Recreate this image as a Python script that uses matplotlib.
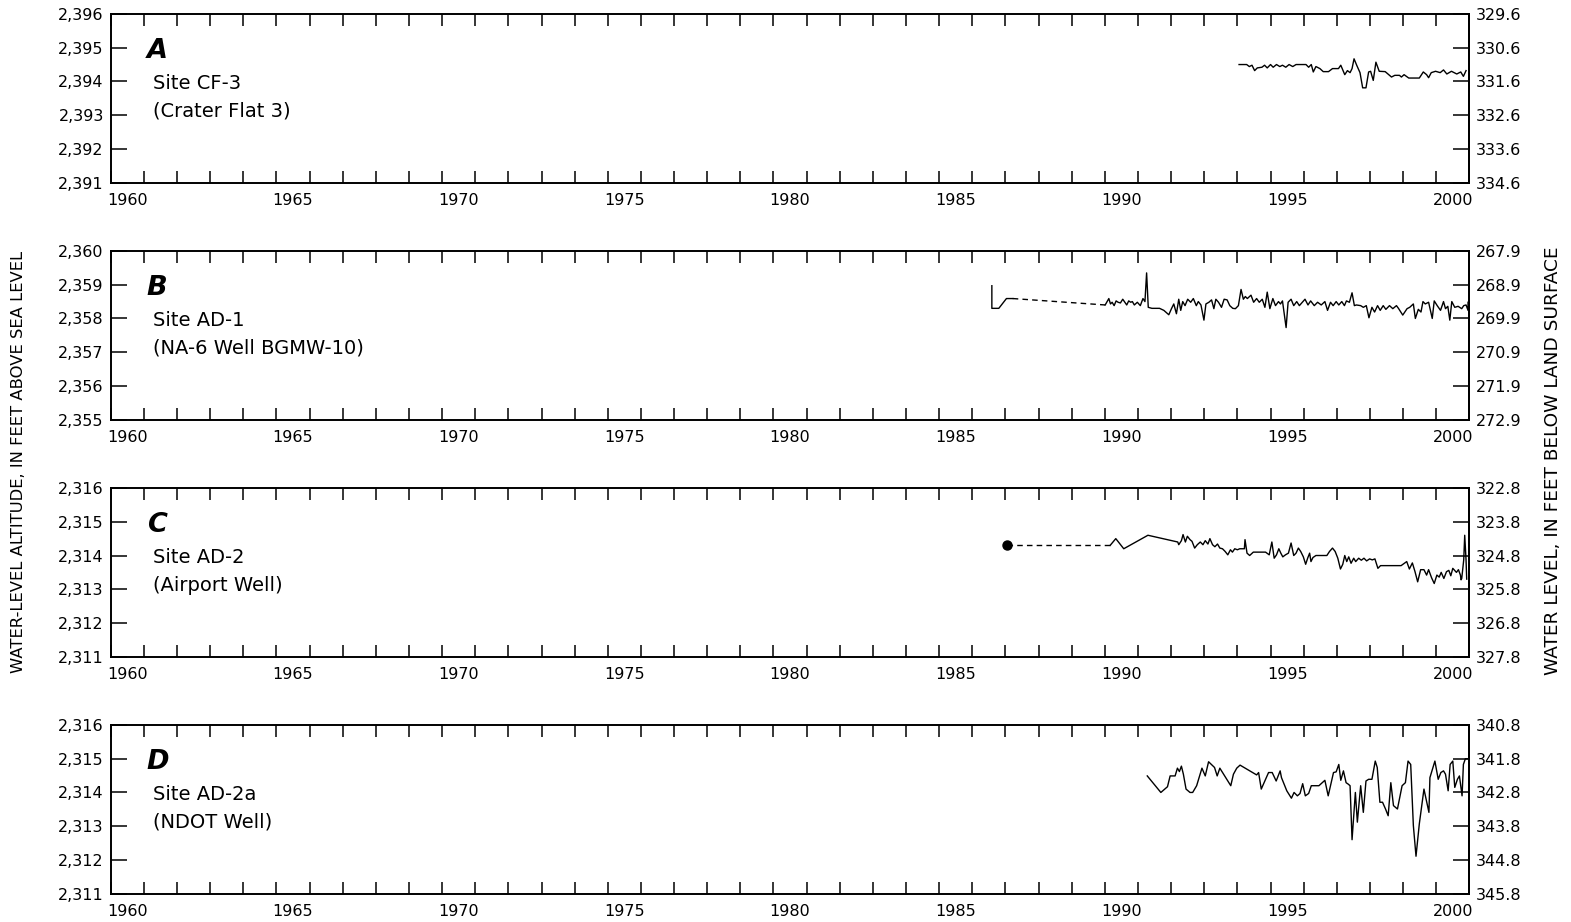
import numpy as np
import matplotlib
matplotlib.use("Agg")
import matplotlib.pyplot as plt
from matplotlib.ticker import FuncFormatter, FormatStrFormatter

plt.rcParams["font.family"] = ["DejaVu Sans"]

# ---- hydrograph data (decimal year, water-level altitude in ft) ----
# A: CF-3
a_year = [1994.05, 1994.28, 1994.36, 1994.44, 1994.52, 1994.60, 1994.74, 1994.82,
          1994.90, 1995.00, 1995.08, 1995.18, 1995.28, 1995.36, 1995.46, 1995.56,
          1995.67, 1995.77, 1996.07, 1996.15, 1996.23, 1996.29, 1996.37, 1996.49,
          1996.59, 1996.75, 1996.87, 1997.05, 1997.12, 1997.24, 1997.32, 1997.40,
          1997.46, 1997.52, 1997.60, 1997.70, 1997.78, 1997.88, 1997.96, 1998.02,
          1998.10, 1998.18, 1998.28, 1998.46, 1998.65, 1998.75, 1998.89, 1998.95,
          1999.03, 1999.17, 1999.49, 1999.61, 1999.71, 1999.77, 1999.85, 1999.98,
          2000.12, 2000.22, 2000.32, 2000.46, 2000.62, 2000.74, 2000.82, 2000.90]
a_alt = [2394.50, 2394.50, 2394.44, 2394.48, 2394.32, 2394.40, 2394.42, 2394.48,
         2394.40, 2394.50, 2394.42, 2394.50, 2394.44, 2394.48, 2394.42, 2394.50,
         2394.44, 2394.50, 2394.50, 2394.42, 2394.50, 2394.28, 2394.44, 2394.38,
         2394.29, 2394.29, 2394.38, 2394.38, 2394.48, 2394.20, 2394.32, 2394.26,
         2394.38, 2394.67, 2394.48, 2394.26, 2393.81, 2393.81, 2394.28, 2394.30,
         2394.03, 2394.57, 2394.30, 2394.29, 2394.13, 2394.18, 2394.18, 2394.13,
         2394.20, 2394.10, 2394.10, 2394.28, 2394.20, 2394.11, 2394.26, 2394.30,
         2394.26, 2394.34, 2394.22, 2394.30, 2394.22, 2394.28, 2394.15, 2394.32]

# B: AD-1 (early record, gap, then continuous record)
b_early_year = [1986.59, 1986.59, 1986.80, 1987.03, 1987.22]
b_early_alt = [2358.97, 2358.30, 2358.30, 2358.59, 2358.59]
b_year = [1990.01, 1990.12, 1990.17, 1990.22, 1990.28, 1990.34, 1990.40, 1990.47,
          1990.54, 1990.59, 1990.66, 1990.72, 1990.78, 1990.83, 1990.89, 1990.98,
          1991.07, 1991.15, 1991.21, 1991.26, 1991.31, 1991.42, 1991.65, 1991.78,
          1991.93, 1992.01, 1992.08, 1992.16, 1992.23, 1992.29, 1992.35, 1992.42,
          1992.50, 1992.59, 1992.67, 1992.76, 1992.82, 1992.90, 1992.99, 1993.05,
          1993.14, 1993.22, 1993.29, 1993.35, 1993.43, 1993.52, 1993.60, 1993.69,
          1993.77, 1993.86, 1993.94, 1994.03, 1994.11, 1994.18, 1994.24, 1994.30,
          1994.41, 1994.49, 1994.58, 1994.66, 1994.75, 1994.83, 1994.90, 1994.98,
          1995.07, 1995.15, 1995.24, 1995.30, 1995.36, 1995.47, 1995.53, 1995.62,
          1995.70, 1995.79, 1995.87, 1995.96, 1996.04, 1996.13, 1996.21, 1996.32,
          1996.42, 1996.53, 1996.64, 1996.72, 1996.81, 1996.89, 1996.98, 1997.06,
          1997.15, 1997.23, 1997.29, 1997.38, 1997.46, 1997.53, 1997.59, 1997.72,
          1997.80, 1997.89, 1997.97, 1998.06, 1998.14, 1998.23, 1998.31, 1998.40,
          1998.48, 1998.59, 1998.69, 1998.80, 1998.86, 1998.99, 1999.05, 1999.12,
          1999.20, 1999.31, 1999.37, 1999.46, 1999.54, 1999.60, 1999.67, 1999.77,
          1999.88, 1999.94, 2000.03, 2000.13, 2000.22, 2000.28, 2000.35, 2000.41,
          2000.47, 2000.56, 2000.66, 2000.77, 2000.83, 2000.90, 2000.96, 2000.96]
b_alt = [2358.40, 2358.59, 2358.43, 2358.48, 2358.38, 2358.52, 2358.48, 2358.46,
         2358.57, 2358.50, 2358.40, 2358.52, 2358.48, 2358.50, 2358.40, 2358.48,
         2358.38, 2358.59, 2358.50, 2359.35, 2358.33, 2358.30, 2358.30, 2358.24,
         2358.11, 2358.29, 2358.43, 2358.14, 2358.57, 2358.24, 2358.50, 2358.38,
         2358.57, 2358.48, 2358.59, 2358.38, 2358.50, 2358.40, 2357.95, 2358.43,
         2358.48, 2358.55, 2358.29, 2358.57, 2358.48, 2358.33, 2358.57, 2358.55,
         2358.38, 2358.30, 2358.29, 2358.38, 2358.86, 2358.57, 2358.65, 2358.59,
         2358.69, 2358.48, 2358.59, 2358.48, 2358.57, 2358.33, 2358.78, 2358.29,
         2358.59, 2358.38, 2358.50, 2358.43, 2358.52, 2357.73, 2358.48, 2358.57,
         2358.38, 2358.50, 2358.38, 2358.48, 2358.57, 2358.40, 2358.52, 2358.38,
         2358.48, 2358.40, 2358.50, 2358.24, 2358.48, 2358.38, 2358.50, 2358.40,
         2358.50, 2358.38, 2358.52, 2358.48, 2358.76, 2358.38, 2358.40, 2358.38,
         2358.33, 2358.38, 2358.02, 2358.33, 2358.19, 2358.38, 2358.24, 2358.38,
         2358.27, 2358.38, 2358.29, 2358.38, 2358.30, 2358.10, 2358.19, 2358.29,
         2358.33, 2358.43, 2358.00, 2358.27, 2358.19, 2358.50, 2358.43, 2358.48,
         2358.00, 2358.52, 2358.38, 2358.24, 2358.50, 2358.29, 2358.36, 2357.95,
         2358.50, 2358.33, 2358.36, 2358.29, 2358.38, 2358.40, 2358.24, 2358.48]

# C: AD-2 (single early measurement, gap, then continuous record)
c_early_year = [1987.04]
c_early_alt = [2314.30]
c_year = [1990.16, 1990.33, 1990.57, 1991.30, 1992.20, 1992.23, 1992.31, 1992.36,
          1992.43, 1992.49, 1992.57, 1992.63, 1992.71, 1992.79, 1992.88, 1992.96,
          1993.03, 1993.11, 1993.17, 1993.25, 1993.32, 1993.40, 1993.47, 1993.55,
          1993.63, 1993.71, 1993.79, 1993.85, 1993.92, 1994.00, 1994.07, 1994.21,
          1994.23, 1994.29, 1994.37, 1994.48, 1994.85, 1994.96, 1995.04, 1995.11,
          1995.18, 1995.25, 1995.31, 1995.37, 1995.45, 1995.54, 1995.62, 1995.70,
          1995.77, 1995.84, 1995.91, 1995.99, 1996.06, 1996.12, 1996.18, 1996.22,
          1996.28, 1996.37, 1996.70, 1996.78, 1996.87, 1996.95, 1997.03, 1997.11,
          1997.18, 1997.24, 1997.30, 1997.36, 1997.43, 1997.51, 1997.57, 1997.66,
          1997.74, 1997.82, 1997.90, 1997.99, 1998.07, 1998.15, 1998.24, 1998.32,
          1998.94, 1999.11, 1999.19, 1999.28, 1999.36, 1999.44, 1999.53, 1999.63,
          1999.71, 1999.77, 1999.86, 1999.94, 2000.02, 2000.09, 2000.15, 2000.23,
          2000.31, 2000.38, 2000.44, 2000.50, 2000.61, 2000.67, 2000.73, 2000.75,
          2000.77, 2000.83, 2000.86, 2000.90, 2000.92]
c_alt = [2314.30, 2314.50, 2314.20, 2314.60, 2314.40, 2314.32, 2314.44, 2314.62,
         2314.40, 2314.57, 2314.47, 2314.42, 2314.22, 2314.32, 2314.40, 2314.32,
         2314.44, 2314.34, 2314.50, 2314.32, 2314.26, 2314.34, 2314.22, 2314.20,
         2314.12, 2314.02, 2314.17, 2314.10, 2314.20, 2314.17, 2314.20, 2314.20,
         2314.47, 2314.07, 2314.00, 2314.10, 2314.10, 2314.02, 2314.40, 2313.92,
         2314.02, 2314.20, 2314.07, 2313.96, 2314.02, 2314.07, 2314.37, 2314.00,
         2314.07, 2314.22, 2314.12, 2313.96, 2313.74, 2313.92, 2314.07, 2313.82,
         2313.94, 2314.00, 2314.00, 2314.12, 2314.22, 2314.12, 2313.92, 2313.60,
         2313.74, 2314.00, 2313.82, 2313.96, 2313.77, 2313.92, 2313.82, 2313.92,
         2313.86, 2313.92, 2313.84, 2313.90, 2313.87, 2313.90, 2313.62, 2313.70,
         2313.70, 2313.82, 2313.60, 2313.78, 2313.52, 2313.22, 2313.58, 2313.58,
         2313.42, 2313.58, 2313.34, 2313.17, 2313.42, 2313.36, 2313.50, 2313.32,
         2313.52, 2313.56, 2313.40, 2313.62, 2313.50, 2313.58, 2313.42, 2313.28,
         2313.32, 2313.87, 2314.60, 2313.87, 2313.30]

# D: AD-2a
d_year = [1991.28, 1991.69, 1991.89, 1991.97, 1992.12, 1992.19, 1992.25, 1992.31,
          1992.37, 1992.45, 1992.57, 1992.65, 1992.77, 1992.93, 1993.03, 1993.13,
          1993.31, 1993.39, 1993.47, 1993.80, 1993.88, 1993.98, 1994.08, 1994.58,
          1994.64, 1994.72, 1994.94, 1995.05, 1995.17, 1995.29, 1995.33, 1995.49,
          1995.63, 1995.71, 1995.81, 1995.89, 1995.97, 1996.05, 1996.15, 1996.23,
          1996.46, 1996.64, 1996.74, 1996.90, 1996.98, 1997.06, 1997.12, 1997.20,
          1997.28, 1997.34, 1997.40, 1997.46, 1997.56, 1997.62, 1997.72, 1997.80,
          1997.88, 1997.96, 1998.06, 1998.16, 1998.22, 1998.30, 1998.38, 1998.47,
          1998.55, 1998.63, 1998.71, 1998.83, 1998.97, 1999.07, 1999.15, 1999.23,
          1999.31, 1999.39, 1999.49, 1999.63, 1999.78, 1999.81, 1999.96, 2000.06,
          2000.14, 2000.22, 2000.28, 2000.36, 2000.42, 2000.50, 2000.56, 2000.64,
          2000.70, 2000.78, 2000.82, 2000.88, 2000.98]
d_alt = [2314.49, 2314.00, 2314.17, 2314.49, 2314.49, 2314.72, 2314.62, 2314.78,
         2314.54, 2314.10, 2314.00, 2314.00, 2314.20, 2314.72, 2314.49, 2314.91,
         2314.74, 2314.49, 2314.72, 2314.20, 2314.54, 2314.72, 2314.81, 2314.52,
         2314.59, 2314.10, 2314.59, 2314.59, 2314.34, 2314.64, 2314.44, 2314.05,
         2313.83, 2314.00, 2313.90, 2313.97, 2314.26, 2313.90, 2313.97, 2314.20,
         2314.20, 2314.36, 2313.90, 2314.59, 2314.61, 2314.83, 2314.36, 2314.64,
         2314.29, 2314.25, 2314.20, 2312.60, 2314.00, 2313.12, 2314.20, 2313.41,
         2314.34, 2314.39, 2314.39, 2314.93, 2314.74, 2313.71, 2313.71, 2313.51,
         2313.31, 2314.29, 2313.61, 2313.51, 2314.20, 2314.29, 2314.93, 2314.83,
         2313.02, 2312.11, 2313.07, 2314.10, 2313.41, 2314.44, 2314.93, 2314.39,
         2314.59, 2314.64, 2314.54, 2314.05, 2314.83, 2314.93, 2314.15, 2314.39,
         2314.49, 2313.90, 2314.83, 2315.00, 2315.00]

# panel labels, axis ranges and land-surface altitude for the depth scale
letters = ["A", "B", "C", "D"]
sites = ["Site CF-3", "Site AD-1", "Site AD-2", "Site AD-2a"]
names = ["(Crater Flat 3)", "(NA-6 Well BGMW-10)", "(Airport Well)", "(NDOT Well)"]
alt_min = [2391, 2355, 2311, 2311]
land_alt = [2725.6, 2627.9, 2638.8, 2656.8]
year_labels = [1960, 1965, 1970, 1975, 1980, 1985, 1990, 1995, 2000]

LW = 1.0
SPINE = 1.4

fig = plt.figure(figsize=(15.71, 9.22), dpi=100)
bottoms = [0.8019, 0.5448, 0.2877, 0.0307]
axes = []
for i in range(4):
    ax = fig.add_axes([0.0705, bottoms[i], 0.8648, 0.1830])
    axes.append(ax)

    ax.set_xlim(1960, 2001)
    ax.set_ylim(alt_min[i], alt_min[i] + 5)

    # yearly ticks, labels centred inside each labelled year
    ax.set_xticks(np.arange(1960, 2002))
    ax.set_xticklabels([])
    ax.set_xticks([y + 0.5 for y in year_labels], minor=True)
    ax.set_xticklabels([str(y) for y in year_labels], minor=True)
    ax.tick_params(axis="x", which="major", direction="in", length=8.6,
                   width=1.1, top=True, bottom=True)
    ax.tick_params(axis="x", which="minor", length=0, pad=7.5, labelsize=11.5,
                   top=False)

    ax.set_yticks(np.arange(alt_min[i], alt_min[i] + 6))
    ax.yaxis.set_major_formatter(FuncFormatter(lambda v, p: f"{v:,.0f}"))
    ax.tick_params(axis="y", direction="in", length=11.5, width=1.1,
                   pad=5, labelsize=11.5)
    for s in ax.spines.values():
        s.set_linewidth(SPINE)

    # depth below land surface on the right
    L = land_alt[i]
    sec = ax.secondary_yaxis("right", functions=(lambda a, L=L: L - a,
                                                 lambda d, L=L: L - d))
    sec.set_yticks([L - v for v in range(alt_min[i], alt_min[i] + 6)])
    sec.yaxis.set_major_formatter(FormatStrFormatter("%.1f"))
    sec.tick_params(direction="in", length=11.5, width=1.1, pad=5,
                    labelsize=11.5)
    sec.spines["right"].set_linewidth(SPINE)

    ax.text(0.0265, 0.74, letters[i], transform=ax.transAxes, fontsize=19.5,
            fontweight="bold", fontstyle="italic", va="baseline", ha="left")
    ax.text(0.031, 0.554, sites[i], transform=ax.transAxes, fontsize=14,
            va="baseline", ha="left")
    ax.text(0.031, 0.39, names[i], transform=ax.transAxes, fontsize=14,
            va="baseline", ha="left")

dash = (0, (4, 3))
axA, axB, axC, axD = axes
axA.plot(a_year, a_alt, color="black", lw=LW)

axB.plot(b_early_year, b_early_alt, color="black", lw=LW)
axB.plot([b_early_year[-1], b_year[0]], [b_early_alt[-1], b_alt[0]],
         color="black", lw=LW, linestyle=dash)
axB.plot(b_year, b_alt, color="black", lw=LW)

axC.plot(c_early_year, c_early_alt, "o", color="black", ms=6.5)
axC.plot([c_early_year[-1], c_year[0]], [c_early_alt[-1], c_alt[0]],
         color="black", lw=LW, linestyle=dash)
axC.plot(c_year, c_alt, color="black", lw=LW)

axD.plot(d_year, d_alt, color="black", lw=LW)

fig.text(0.0115, 0.4995, "WATER-LEVEL ALTITUDE, IN FEET ABOVE SEA LEVEL",
         rotation=90, ha="center", va="center", fontsize=11.8)
fig.text(0.9885, 0.5, "WATER LEVEL, IN FEET BELOW LAND SURFACE",
         rotation=90, ha="center", va="center", fontsize=13.3)

fig.savefig("out.png", dpi=100)
